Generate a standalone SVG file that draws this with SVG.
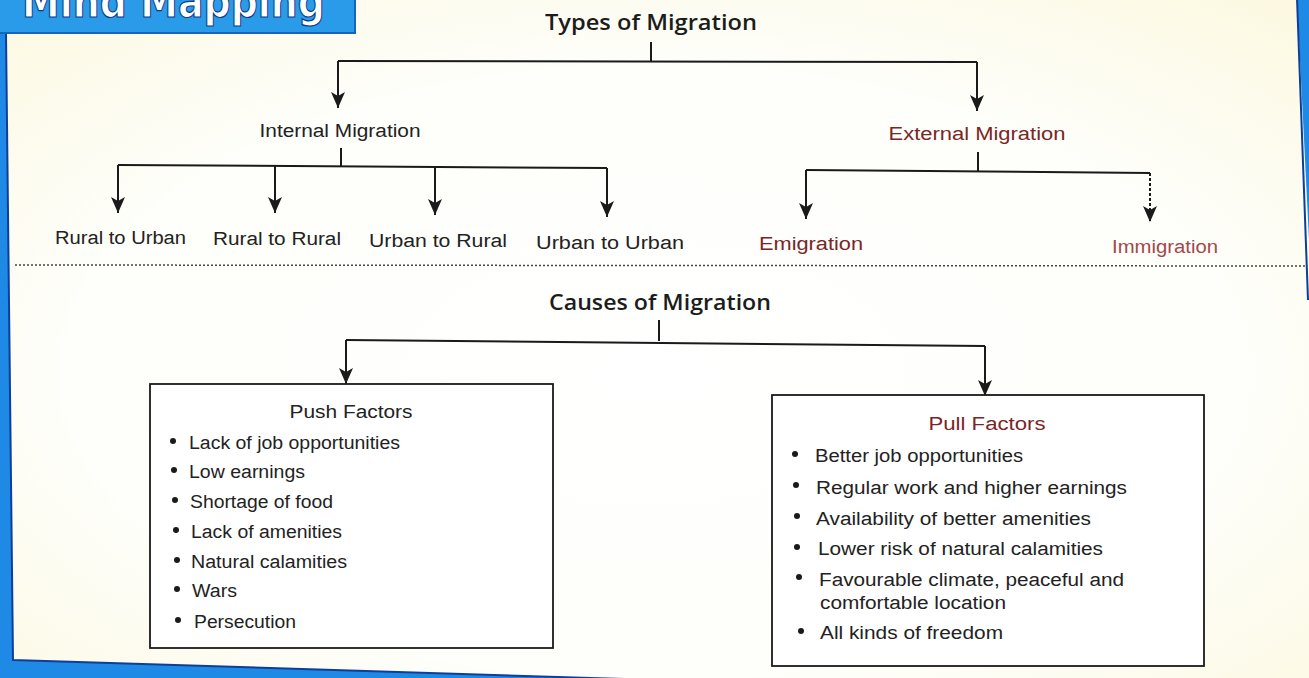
<svg xmlns="http://www.w3.org/2000/svg" width="1309" height="678" viewBox="0 0 1309 678">
<defs>
<radialGradient id="bg" cx="0.5" cy="0.55" r="0.75">
<stop offset="0" stop-color="#ffffff"/>
<stop offset="0.6" stop-color="#fefefa"/>
<stop offset="1" stop-color="#fcf8df"/>
</radialGradient>
<marker id="arr" viewBox="0 0 16 14" refX="16" refY="7" markerWidth="16" markerHeight="14" markerUnits="userSpaceOnUse" orient="auto">
<path d="M0,0 L16,7 L0,14 L4,7 Z" fill="#1a1a1a"/>
</marker>
<style>
.h{font-family:"Open Sans","Liberation Sans",sans-serif;font-weight:600;font-size:21px;fill:#1c1c1c}
.t{font-family:"Liberation Sans",Arial,sans-serif;font-size:18px;fill:#222}
.r{fill:#7a2626}
.lr{fill:#a3484a}
.c{fill:none;stroke:#1a1a1a;stroke-width:2}
.box{fill:#ffffff;stroke:#1a1a1a;stroke-width:1.8}
.b{fill:#1a1a1a}
</style>
</defs>
<rect width="1309" height="678" fill="url(#bg)"/>
<g id="frame">
<path d="M6,34 L13,660 L720,682 L20,690 L-5,690 L-5,34 Z" fill="#1e8ae6"/>
<path d="M6,34 L13,660 L720,682" fill="none" stroke="#0d3f9a" stroke-width="2"/>
<path d="M1297,-2 L1312,300 L1312,-2 Z" fill="#1e8ae6"/>
<path d="M1297,-2 L1308,300" fill="none" stroke="#0d3f9a" stroke-width="2"/>
</g>
<g id="banner">
<rect x="-2" y="-2" width="357" height="35" fill="#2a9be8" stroke="#1565c0" stroke-width="2"/>
<text x="22" y="17" font-family="'DejaVu Sans','Liberation Sans',sans-serif" font-weight="bold" font-size="44" fill="#ffffff" stroke="#0b3d8a" stroke-width="1.2" textLength="303" lengthAdjust="spacingAndGlyphs">Mind Mapping</text>
</g>
<g id="connectors">
<path class="c" d="M651,42 V61 M338,61 L977,62"/>
<path class="c" d="M338,61 V108" marker-end="url(#arr)"/>
<path class="c" d="M977,62 V111" marker-end="url(#arr)"/>
<path class="c" d="M341,148 V166 M118,165 L607,168"/>
<path class="c" d="M118,165 V213" marker-end="url(#arr)"/>
<path class="c" d="M275,166 V213" marker-end="url(#arr)"/>
<path class="c" d="M435,167 V215" marker-end="url(#arr)"/>
<path class="c" d="M607,168 V217" marker-end="url(#arr)"/>
<path class="c" d="M978,152 V171 M806,170 L1150,173"/>
<path class="c" d="M806,170 V219" marker-end="url(#arr)"/>
<path class="c" d="M1150,173 V222" stroke="#8a5a5a" stroke-dasharray="3,2" marker-end="url(#arr)"/>
<path class="c" d="M659,320 V341 M346,340 L985,346"/>
<path class="c" d="M346,340 V384" marker-end="url(#arr)"/>
<path class="c" d="M985,346 V396" marker-end="url(#arr)"/>
<path d="M15,265 L1305,266" fill="none" stroke="#444" stroke-width="1.5" stroke-dasharray="2,2"/>
</g>
<g id="types">
<text class="h" x="651" y="30" text-anchor="middle" textLength="212" lengthAdjust="spacingAndGlyphs">Types of Migration</text>
</g>
<g id="internal">
<text class="t" x="340" y="137" text-anchor="middle" textLength="161" lengthAdjust="spacingAndGlyphs">Internal Migration</text>
</g>
<g id="external">
<text class="t r" x="977" y="140" text-anchor="middle" textLength="177" lengthAdjust="spacingAndGlyphs">External Migration</text>
</g>
<g id="rural-urban"><text class="t" x="55" y="244" textLength="131" lengthAdjust="spacingAndGlyphs">Rural to Urban</text></g>
<g id="rural-rural"><text class="t" x="213" y="245" textLength="128" lengthAdjust="spacingAndGlyphs">Rural to Rural</text></g>
<g id="urban-rural"><text class="t" x="369" y="247" textLength="138" lengthAdjust="spacingAndGlyphs">Urban to Rural</text></g>
<g id="urban-urban"><text class="t" x="536" y="249" textLength="148" lengthAdjust="spacingAndGlyphs" fill="#3a2222">Urban to Urban</text></g>
<g id="emigration"><text class="t r" x="759" y="250" textLength="104" lengthAdjust="spacingAndGlyphs">Emigration</text></g>
<g id="immigration"><text class="t lr" x="1112" y="253" textLength="106" lengthAdjust="spacingAndGlyphs">Immigration</text></g>
<g id="causes">
<text class="h" x="660" y="310" text-anchor="middle" textLength="222" lengthAdjust="spacingAndGlyphs">Causes of Migration</text>
</g>
<g id="push">
<rect class="box" x="150" y="384" width="403" height="264"/>
<text class="t" x="351" y="418" text-anchor="middle" textLength="123" lengthAdjust="spacingAndGlyphs">Push Factors</text>
<circle class="b" cx="173" cy="441" r="3"/><text class="t" x="189" y="449" textLength="211" lengthAdjust="spacingAndGlyphs">Lack of job opportunities</text>
<circle class="b" cx="174" cy="470" r="3"/><text class="t" x="189" y="478" textLength="116" lengthAdjust="spacingAndGlyphs">Low earnings</text>
<circle class="b" cx="175" cy="500" r="3"/><text class="t" x="190" y="508" textLength="143" lengthAdjust="spacingAndGlyphs">Shortage of food</text>
<circle class="b" cx="176" cy="530" r="3"/><text class="t" x="191" y="538" textLength="151" lengthAdjust="spacingAndGlyphs">Lack of amenities</text>
<circle class="b" cx="177" cy="560" r="3"/><text class="t" x="191" y="568" textLength="156" lengthAdjust="spacingAndGlyphs">Natural calamities</text>
<circle class="b" cx="177" cy="589" r="3"/><text class="t" x="192" y="597" textLength="45" lengthAdjust="spacingAndGlyphs">Wars</text>
<circle class="b" cx="178" cy="620" r="3"/><text class="t" x="194" y="628" textLength="102" lengthAdjust="spacingAndGlyphs">Persecution</text>
</g>
<g id="pull">
<rect class="box" x="772" y="395" width="432" height="271"/>
<text class="t r" x="987" y="430" text-anchor="middle" textLength="117" lengthAdjust="spacingAndGlyphs">Pull Factors</text>
<circle class="b" cx="795" cy="454" r="3"/><text class="t" x="815" y="462" textLength="208" lengthAdjust="spacingAndGlyphs">Better job opportunities</text>
<circle class="b" cx="796" cy="485" r="3"/><text class="t" x="816" y="494" textLength="311" lengthAdjust="spacingAndGlyphs">Regular work and higher earnings</text>
<circle class="b" cx="797" cy="516" r="3"/><text class="t" x="816" y="525" textLength="275" lengthAdjust="spacingAndGlyphs">Availability of better amenities</text>
<circle class="b" cx="797" cy="547" r="3"/><text class="t" x="818" y="555" textLength="285" lengthAdjust="spacingAndGlyphs">Lower risk of natural calamities</text>
<circle class="b" cx="799" cy="577" r="3"/><text class="t" x="819" y="586" textLength="305" lengthAdjust="spacingAndGlyphs">Favourable climate, peaceful and</text>
<text class="t" x="820" y="609" textLength="186" lengthAdjust="spacingAndGlyphs">comfortable location</text>
<circle class="b" cx="801" cy="631" r="3"/><text class="t" x="820" y="639" textLength="183" lengthAdjust="spacingAndGlyphs">All kinds of freedom</text>
</g>
</svg>
